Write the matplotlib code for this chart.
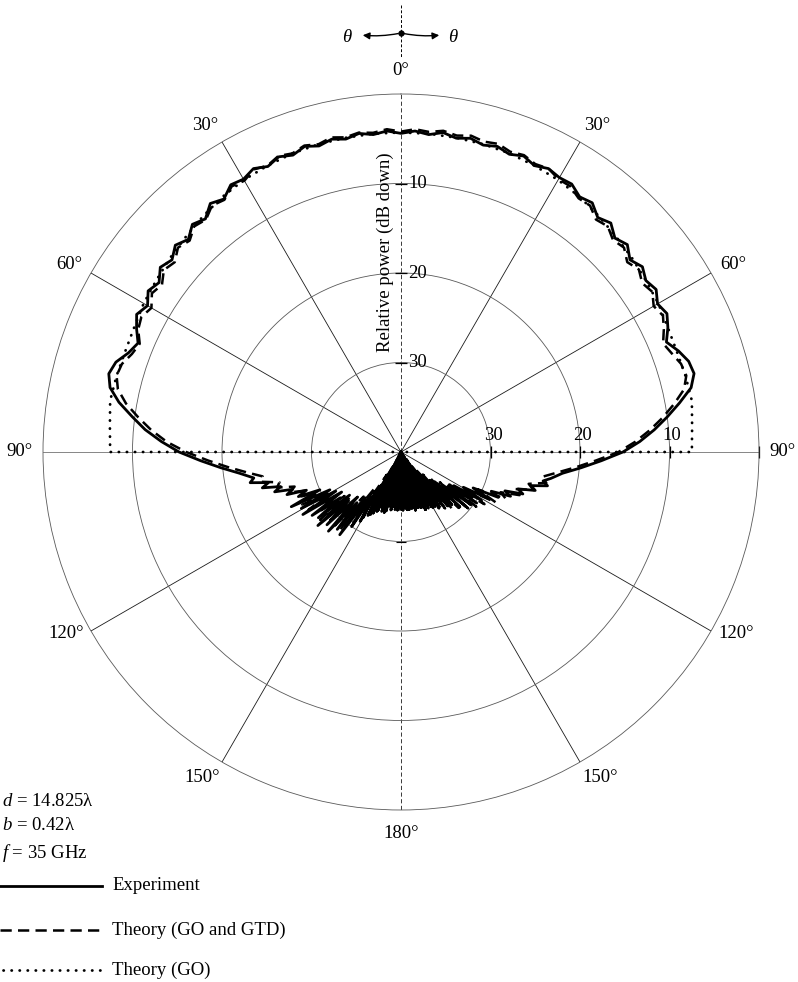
import numpy as np
import matplotlib.pyplot as plt
from matplotlib.lines import Line2D

plt.rcParams['font.family'] = ['Liberation Serif', 'DejaVu Serif']
plt.rcParams['mathtext.fontset'] = 'custom'
plt.rcParams['mathtext.rm'] = 'Liberation Serif'
plt.rcParams['mathtext.it'] = 'Liberation Serif:italic'
plt.rcParams['font.size'] = 13.5

# ---- data (dB down, angle in degrees, + = right of boresight) ----
FLOOR = 40
rings = [10, 20, 30]
spokes = np.arange(0, 360, 30)

# Experiment
exp_main_deg = np.arange(-97.5, 97.6, 2.5)
exp_main_db = [21.8, 19.8, 17.6,
               15.2, 13.2, 11.3, 9.7, 8.0, 6.7, 6.2, 6.6, 7.6, 8.2,
               7.4, 6.7, 7.3, 6.5, 7.0, 6.1, 6.6, 5.8, 6.4, 5.5,
               6.0, 5.0, 5.5, 4.6, 4.8, 4.3, 4.8, 4.3, 4.7, 4.2,
               4.6, 4.2, 4.5, 4.1, 4.4, 4.1, 4.4,
               4.1, 4.4, 4.0, 4.4, 4.1, 4.5, 4.2, 4.6, 4.2, 4.7,
               4.3, 4.6, 4.5, 5.2, 4.9, 5.8, 5.3, 6.2, 5.7, 6.6,
               6.0, 6.6, 6.2, 6.9, 6.5, 7.1, 7.9, 7.0, 6.3, 6.1,
               6.8, 8.4, 10.0, 11.6, 13.3, 15.2,
               17.6, 19.8, 21.8]

exp_left_deg = np.arange(-179.5, -99.9, 1.5)
exp_left_db = [33.6, 42.0, 33.5, 41.0, 33.8, 42.0, 33.5, 41.0, 33.8, 42.0,
               33.0, 41.0, 33.5, 40.0, 33.0, 41.0, 32.5, 40.0, 32.0, 38.0,
               31.0, 35.0, 30.0, 34.0, 28.5, 33.5, 28.8, 32.5, 28.0, 33.0,
               28.4, 32.0, 27.6, 32.5, 28.2, 31.5, 27.8, 32.0, 27.0, 31.5,
               27.2, 31.0, 26.3, 30.0, 27.5, 28.6, 26.4, 27.2, 25.2, 26.0,
               24.0, 24.8, 22.8, 23.3]

exp_right_deg = np.arange(100, 180, 1.5)
exp_right_db = [23.0, 23.8, 23.2, 25.0, 24.4, 26.3, 25.6, 27.6, 26.8, 29.0,
                28.0, 31.0, 28.8, 32.0, 29.5, 33.0, 29.8, 33.5, 30.2, 34.0,
                30.5, 35.0, 31.0, 35.5, 31.8, 36.0, 32.0, 37.0, 32.3, 38.0,
                32.5, 39.0, 32.8, 40.0, 33.0, 41.0, 33.2, 42.0, 33.0, 41.0,
                33.4, 42.0, 33.5, 41.0, 33.3, 42.0, 33.6, 41.0, 33.5, 42.0,
                33.7, 41.0, 33.5, 42.0]

# Theory (GO and GTD)
gtd_main_deg = np.arange(-97.5, 97.6, 2.5)
gtd_main_db = [22.6, 20.6, 18.4,
               16.0, 13.8, 12.0, 10.4, 8.8, 7.6, 7.1, 7.3, 8.0, 8.4,
               7.6, 7.3, 7.8, 7.0, 7.4, 6.6, 7.0, 6.2, 6.6, 5.8,
               6.1, 5.3, 5.6, 4.8, 5.0, 4.4, 4.7, 4.2, 4.5, 4.1,
               4.4, 4.0, 4.3, 4.0, 4.2, 3.9, 4.2,
               3.9, 4.1, 3.8, 4.1, 3.8, 4.1, 3.9, 4.3, 4.1, 4.5,
               4.3, 4.8, 4.8, 5.4, 5.3, 6.1, 5.8, 6.5, 6.2, 7.0,
               6.5, 7.1, 6.7, 7.4, 7.0, 7.6, 8.3, 7.8, 7.2, 7.0,
               7.6, 9.0, 10.5, 12.1, 13.8, 15.7,
               18.2, 20.4, 22.4]

gtd_left_deg = np.arange(-178, -99, 2)
gtd_left_db = [33.6, 41.0, 33.5, 42.0, 33.4, 41.0, 33.2, 42.0, 33.0, 41.0,
               32.8, 40.0, 32.2, 39.0, 31.5, 37.0, 30.5, 35.0, 29.0, 33.5,
               28.6, 33.0, 29.0, 32.5, 28.2, 32.0, 28.6, 31.5, 27.8, 31.0,
               27.5, 29.5, 27.8, 28.5, 26.8, 27.5, 25.6, 26.0, 24.0, 24.3]

gtd_right_deg = np.arange(100, 180, 2)
gtd_right_db = [24.0, 23.4, 25.3, 24.6, 26.6, 25.9, 28.0, 27.2, 30.5, 28.0,
                32.0, 29.0, 33.5, 29.6, 34.5, 30.2, 35.5, 31.0, 36.5, 31.5,
                37.5, 32.0, 39.0, 32.4, 40.0, 32.8, 41.0, 33.0, 42.0, 33.3,
                41.0, 33.5, 42.0, 33.4, 41.0, 33.6, 42.0, 33.5, 41.0, 33.7]

# Theory (GO): shadow boundary at +-90 deg
go_deg = [-90, -90, -85, -80, -75, -70, -65, -60, -55, -50, -45, -40, -35,
          -30, -25, -20, -15, -10, -5, 0, 5, 10, 15, 20, 25, 30, 35, 40,
          45, 50, 55, 60, 65, 70, 75, 80, 85, 90, 90]
go_db = [40, 7.5, 7.35, 7.0, 7.1, 7.2, 7.1, 6.8, 6.6, 6.3, 6.0, 5.6, 5.2,
         4.9, 4.7, 4.5, 4.4, 4.35, 4.3, 4.3, 4.3, 4.35, 4.4, 4.5, 4.7, 4.9,
         5.2, 5.6, 6.0, 6.3, 6.6, 6.8, 7.1, 7.2, 7.1, 7.0, 7.35, 7.5, 40]

angle_labels = ['0°', '30°', '60°', '90°', '120°', '150°', '180°',
                '150°', '120°', '90°', '60°', '30°']
angle_label_pos = [0, 31, 60.5, 90, 118.5, 148.5, 180,
                   -148.5, -118.5, -90, -60.5, -31]


def to_r(db):
    return np.clip(FLOOR - np.asarray(db, dtype=float), 0, None)


exp_deg = np.concatenate([exp_left_deg, exp_main_deg, exp_right_deg])
exp_db = np.concatenate([exp_left_db, exp_main_db, exp_right_db])
gtd_deg = np.concatenate([gtd_left_deg, gtd_main_deg, gtd_right_deg])
gtd_db = np.concatenate([gtd_left_db, gtd_main_db, gtd_right_db])

# ---- figure ----
fig = plt.figure(figsize=(7.98, 9.82), dpi=100)
R = 358
cx, cy = 401, 452
ax = fig.add_axes([(cx - R) / 798, (982 - cy - R) / 982, 2 * R / 798, 2 * R / 982],
                  projection='polar')
ax.set_theta_zero_location('N')
ax.set_theta_direction(-1)
ax.set_rlim(0, FLOOR)

ax.set_rgrids([FLOOR - d for d in rings], labels=[''] * len(rings))
ax.set_thetagrids(spokes, labels=[''] * len(spokes))
ax.yaxis.grid(True, color='0.35', lw=0.6)
ax.xaxis.grid(True, color='0.1', lw=0.6)
gl = ax.xaxis.get_gridlines()
gl[0].set_linestyle((0, (5, 3)))
gl[6].set_linestyle((0, (5, 3)))
gl[3].set_color('0.45')
gl[9].set_color('0.45')
ax.spines['polar'].set_linewidth(0.6)
ax.spines['polar'].set_color('0.35')
ax.tick_params(length=0)

# curves
ax.plot(np.deg2rad(exp_deg), to_r(exp_db), color='black', lw=2.0,
        solid_joinstyle='round')
ax.plot(np.deg2rad(gtd_deg), to_r(gtd_db), color='black', lw=1.8,
        dashes=(4.5, 2.5))
ax.plot(np.deg2rad(go_deg), to_r(go_db), color='black', lw=2.0,
        linestyle=(0, (0.1, 2.8)), dash_capstyle='round')

# small ticks on the axes
ring_r = [FLOOR - d for d in rings]
ax.plot([0] * len(ring_r), ring_r, ls='none', marker='_', ms=9,
        mew=0.9, color='black', clip_on=False)
ax.plot([np.pi], [ring_r[-1]], ls='none', marker='_', ms=7,
        mew=0.8, color='black', clip_on=False)
ax.plot([np.pi / 2] * (len(ring_r) + 1), ring_r + [FLOOR], ls='none',
        marker='|', ms=9, mew=0.9, color='black', clip_on=False)

# radial labels
for d in rings:
    ax.annotate(str(d), xy=(0, FLOOR - d), xytext=(5, 0),
                textcoords='offset points', ha='left', va='center')
    ax.annotate(str(d), xy=(np.pi / 2, FLOOR - d), xytext=(2, 12),
                textcoords='offset points', ha='center', va='center')

# angle labels
for lab, a in zip(angle_labels, angle_label_pos):
    ax.text(np.deg2rad(a), 42.6, lab, ha='center', va='center')

fig.text(385 / 798, 1 - 252 / 982, 'Relative power (dB down)', rotation=90,
         ha='center', va='center')

# direction symbol at top
fig.add_artist(Line2D([0.5025, 0.5025], [0.9949, 0.9409], color='black',
                      lw=0.7, linestyle=(0, (3, 2))))
ax.annotate('', xy=(0.4511, 0.9644), xytext=(0.5025, 0.9664),
            xycoords='figure fraction', textcoords='figure fraction',
            arrowprops=dict(arrowstyle='-|>', color='black', lw=1.0,
                            mutation_scale=10,
                            connectionstyle='arc3,rad=-0.08'))
ax.annotate('', xy=(0.5539, 0.9644), xytext=(0.5025, 0.9664),
            xycoords='figure fraction', textcoords='figure fraction',
            arrowprops=dict(arrowstyle='-|>', color='black', lw=1.0,
                            mutation_scale=10,
                            connectionstyle='arc3,rad=0.08'))
fig.add_artist(Line2D([0.5025], [0.9664], marker='o', ms=3.5, color='black'))
fig.text(0.4348, 0.9623, 'θ', style='italic', ha='center', va='center')
fig.text(0.5677, 0.9623, 'θ', style='italic', ha='center', va='center')

# parameters and legend
fig.text(0.003, 1 - 801 / 982, r'$d$ = 14.825λ', ha='left', va='center')
fig.text(0.003, 1 - 826 / 982, r'$b$ = 0.42λ', ha='left', va='center')
fig.text(0.003, 1 - 853 / 982, r'$f$ = 35 GHz', ha='left', va='center')

leg_y = [1 - 886 / 982, 1 - 930 / 982, 1 - 970 / 982]
leg_txt = ['Experiment', 'Theory (GO and GTD)', 'Theory (GO)']
fig.add_artist(Line2D([0, 102 / 798], [leg_y[0]] * 2, color='black', lw=2.0))
fig.add_artist(Line2D([0, 102 / 798], [leg_y[1]] * 2, color='black', lw=1.8,
                      dashes=(4.5, 2.5)))
fig.add_artist(Line2D([0.004, 102 / 798], [leg_y[2]] * 2, color='black', lw=2.0,
                      linestyle=(0, (0.1, 2.8)), dash_capstyle='round'))
for y, t in zip(leg_y, leg_txt):
    fig.text(112 / 798, y, t, ha='left', va='center')

fig.savefig('out.png', dpi=100)
